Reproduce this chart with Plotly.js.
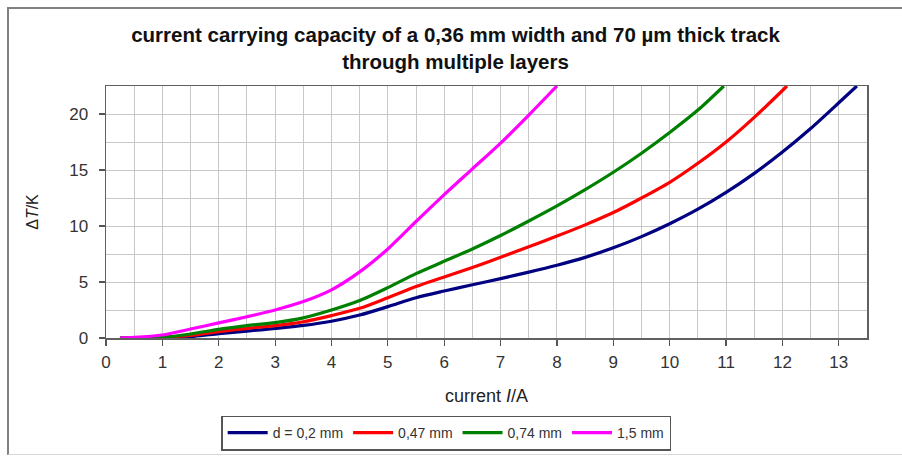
<!DOCTYPE html>
<html>
<head>
<meta charset="utf-8">
<script src="https://cdn.plot.ly/plotly-3.0.1.min.js"></script>
<style>
  html, body { margin: 0; padding: 0; background: #fff; }
  #wrap { position: relative; width: 902px; height: 464px; overflow: hidden; }
  #chart { position: absolute; left: 0; top: 0; width: 902px; height: 464px; }
  #frame { position: absolute; left: 7px; top: 7px; width: 900px; height: 448px;
           border-left: 2px solid #808080; border-top: 2px solid #808080;
           border-bottom: 1px solid #d8d8d8;
           pointer-events: none; box-sizing: border-box; }
</style>
</head>
<body>
<div id="wrap">
  <div id="chart"></div>
  <div id="frame"></div>
</div>
<script>
// current I / A and temperature rise ΔT / K
const seriesNames = ["d = 0,2 mm", "0,47 mm", "0,74 mm", "1,5 mm"];

const x_d020 = [0.25, 0.5, 1, 1.5, 2, 2.5, 3, 3.5, 4, 4.5, 5, 5.5, 6, 6.5, 7, 7.5, 8, 8.5, 9, 9.5, 10, 10.5, 11, 11.5, 12, 12.5, 13, 13.32];
const y_d020 = [0, 0, 0.03, 0.12, 0.38, 0.62, 0.85, 1.12, 1.5, 2.05, 2.8, 3.6, 4.2, 4.75, 5.3, 5.88, 6.5, 7.2, 8.05, 9.05, 10.2, 11.5, 13.0, 14.7, 16.6, 18.7, 21.0, 22.5];

const x_d047 = [0.25, 0.5, 1, 1.5, 2, 2.5, 3, 3.5, 4, 4.5, 5, 5.5, 6, 6.5, 7, 7.5, 8, 8.5, 9, 9.5, 10, 10.5, 11, 11.5, 12, 12.08];
const y_d047 = [0, 0, 0.05, 0.24, 0.57, 0.86, 1.1, 1.45, 2.0, 2.65, 3.6, 4.6, 5.45, 6.3, 7.2, 8.15, 9.1, 10.1, 11.2, 12.5, 13.9, 15.6, 17.5, 19.7, 22.1, 22.5];

const x_d074 = [0.25, 0.5, 1, 1.5, 2, 2.5, 3, 3.5, 4, 4.5, 5, 5.5, 6, 6.5, 7, 7.5, 8, 8.5, 9, 9.5, 10, 10.5, 10.96];
const y_d074 = [0, 0, 0.06, 0.36, 0.77, 1.1, 1.37, 1.8, 2.5, 3.35, 4.5, 5.75, 6.85, 7.95, 9.15, 10.45, 11.8, 13.25, 14.8, 16.5, 18.35, 20.35, 22.5];

const x_d150 = [0.25, 0.5, 1, 1.5, 2, 2.5, 3, 3.5, 4, 4.5, 5, 5.5, 6, 6.5, 7, 7.5, 8];
const y_d150 = [0, 0.05, 0.27, 0.8, 1.35, 1.9, 2.5, 3.25, 4.3, 5.9, 7.95, 10.4, 12.8, 15.1, 17.4, 19.9, 22.5];

const xTickVals = [0, 1, 2, 3, 4, 5, 6, 7, 8, 9, 10, 11, 12, 13];
const yTickVals = [0, 5, 10, 15, 20];

const xData = [x_d020, x_d047, x_d074, x_d150];
const yData = [y_d020, y_d047, y_d074, y_d150];
const colors = ["#000080", "#ff0000", "#008000", "#ff00ff"];

const traces = seriesNames.map((name, i) => ({
  type: "scatter",
  mode: "lines",
  name: name,
  x: xData[i],
  y: yData[i],
  line: { color: colors[i], width: 3.2, shape: "spline", smoothing: 0.8 },
  hoverinfo: "skip"
}));

const fontFam = "Arial, 'Liberation Sans', Helvetica, sans-serif";

const layout = {
  width: 902,
  height: 464,
  margin: { l: 106, r: 35, t: 86, b: 126 },
  paper_bgcolor: "#ffffff",
  plot_bgcolor: "#ffffff",
  font: { family: fontFam, color: "#333333", size: 15 },
  title: {
    text: "<b>current carrying capacity of a 0,36 mm width and 70 µm thick track<br>through multiple layers</b>",
    font: { family: fontFam, size: 20.5, color: "#111111" },
    x: 0.505, xref: "container", xanchor: "center",
    y: 1 - 42 / 464, yref: "container", yanchor: "top"
  },
  xaxis: {
    range: [0, 13.5],
    tickvals: xTickVals,
    ticks: "outside", ticklen: 6, tickwidth: 1.2, tickcolor: "#555",
    ticklabelstandoff: 2,
    showline: true, linecolor: "#606060", linewidth: 1.5, mirror: true,
    showgrid: true, gridcolor: "#c8c8c8", gridwidth: 1,
    minor: { dtick: 0.5, showgrid: true, gridcolor: "#c8c8c8", gridwidth: 1, ticks: "" },
    zeroline: false,
    tickfont: { family: fontFam, size: 17, color: "#333" },
    title: { text: "current <i>I</i>/A", font: { family: fontFam, size: 18, color: "#222" }, standoff: 18 }
  },
  yaxis: {
    range: [0, 22.5],
    tickvals: yTickVals,
    ticks: "outside", ticklen: 6, tickwidth: 1.2, tickcolor: "#555",
    ticklabelstandoff: 7,
    showline: true, linecolor: "#606060", linewidth: 1.5, mirror: true,
    showgrid: true, gridcolor: "#c8c8c8", gridwidth: 1,
    minor: { dtick: 2.5, showgrid: true, gridcolor: "#c8c8c8", gridwidth: 1, ticks: "" },
    zeroline: false,
    tickfont: { family: fontFam, size: 17, color: "#333" },
    title: { text: "Δ<i>T</i>/K", font: { family: fontFam, size: 16, color: "#222" }, standoff: 26 }
  },
  showlegend: true,
  legend: {
    orientation: "h",
    x: 0.447, xanchor: "center", xref: "paper",
    y: -0.377, yanchor: "middle", yref: "paper",
    bordercolor: "#555555", borderwidth: 1.5,
    bgcolor: "#ffffff",
    font: { family: fontFam, size: 14, color: "#333" },
    itemwidth: 40,
    tracegroupgap: 0
  }
};

Plotly.newPlot("chart", traces, layout, { displayModeBar: false, staticPlot: true });
</script>
</body>
</html>
